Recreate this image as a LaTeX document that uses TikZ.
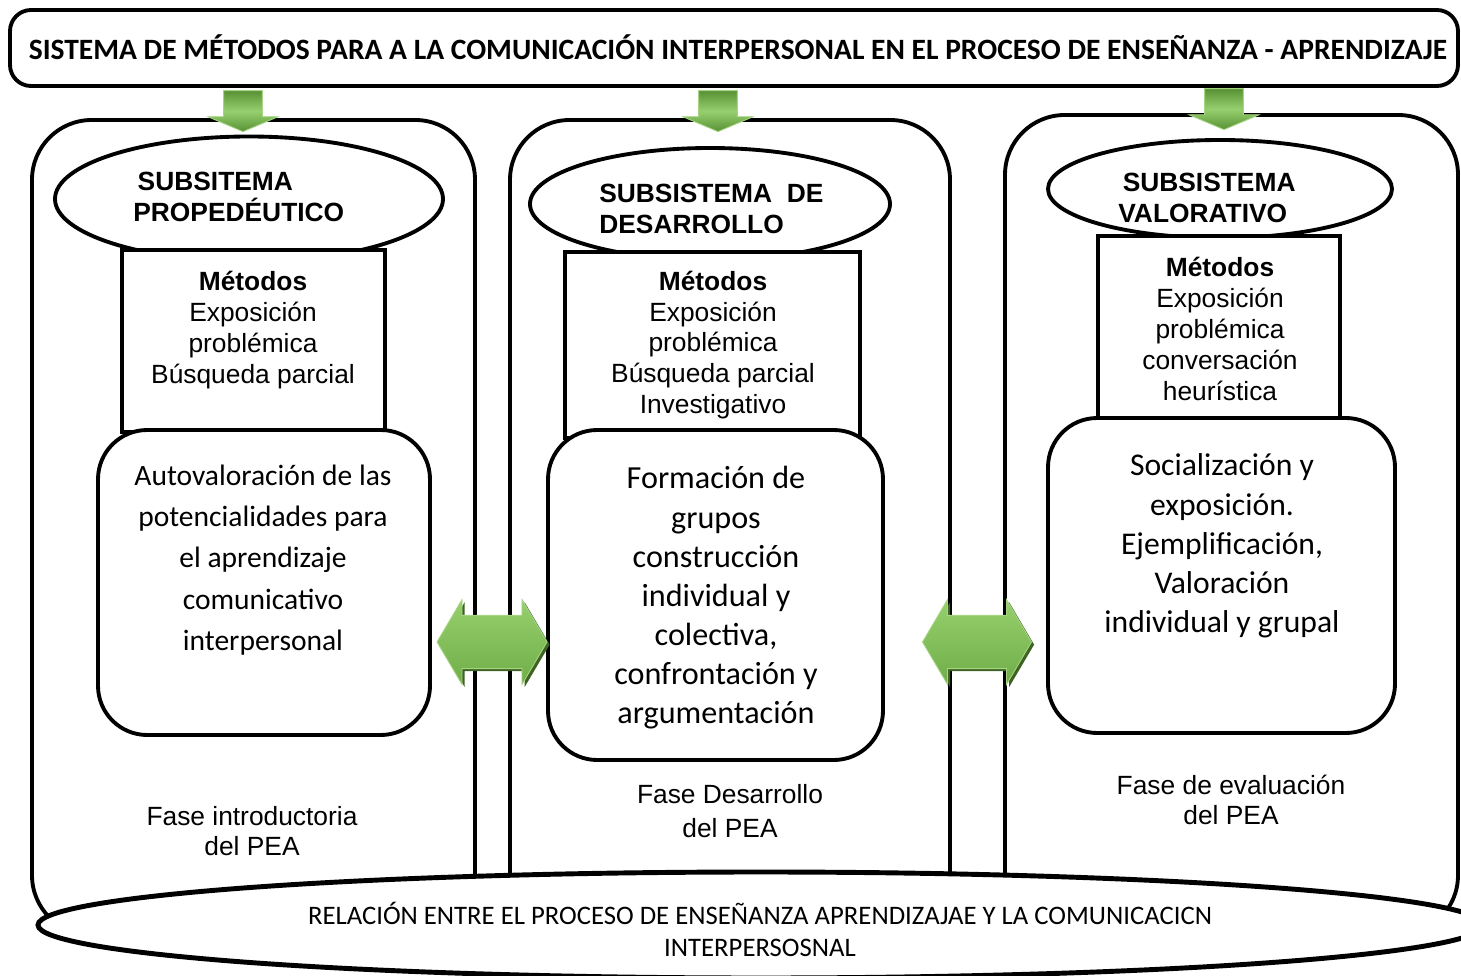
\documentclass[tikz,border=0pt]{standalone}
\usepackage{fontspec}
\setmainfont{Liberation Sans}
\newfontfamily\calfont{Carlito}
\usepackage{tikz}
\usetikzlibrary{positioning, fit, shapes.geometric, shapes.arrows, shadows}
\newcommand{\pxl}{0.02cm}
\definecolor{grnlight}{RGB}{150,208,110}
\definecolor{grnmid}{RGB}{112,173,71}
\definecolor{grndark}{RGB}{88,145,52}
\definecolor{grnedge}{RGB}{165,212,130}
\definecolor{grnshade}{RGB}{62,100,36}
\tikzset{
  frame/.style = {draw, line width=2.2pt, fill=white, inner sep=0pt},
  bigbox/.style = {frame, rounded corners=34pt},
  titlebox/.style = {frame, rounded corners=12pt},
  subell/.style = {frame, ellipse},
  metbox/.style = {frame},
  actbox/.style = {frame, rounded corners=28pt},
  downarrow/.style = {single arrow, draw=grnedge, line width=0.5pt,
    top color=grndark, bottom color=grndark, middle color=grnlight,
    minimum height=0.82cm, minimum width=1.4cm,
    single arrow tip angle=134, inner xsep=0pt, inner ysep=0.3cm, rotate=-90},
  twoarrow/.style = {double arrow, draw=grnedge, line width=0.5pt,
    top color=grnlight, bottom color=grnmid,
    minimum height=2.2cm, minimum width=1.7cm,
    double arrow tip angle=119, inner xsep=0pt, inner ysep=0.41cm,
    drop shadow={fill=grnshade, opacity=1, shadow xshift=1.5pt, shadow yshift=-1.5pt}},
  subtext/.style = {font=\fontsize{15}{17.6}\selectfont\bfseries, align=left, anchor=west, inner sep=0pt},
  mettext/.style = {font=\fontsize{15}{17.6}\selectfont, align=center},
  acttext/.style = {font=\calfont\fontsize{#1}{22.3}\selectfont, align=center},
  fasetext/.style = {font=\fontsize{15}{17.2}\selectfont, align=center}
}
\begin{document}
\begin{tikzpicture}[x=0.02cm, y=-0.02cm]
  \useasboundingbox (0,0) rectangle (1461,976);
  \node (ttl) [titlebox, fit={(10,10) (1458,86)}] {};
  \node (ttltext) at (738,47) {\calfont\fontsize{16.8}{19}\selectfont\bfseries SISTEMA DE MÉTODOS PARA A LA COMUNICACIÓN INTERPERSONAL EN EL PROCESO DE ENSEÑANZA - APRENDIZAJE};

  \node (boxP) [bigbox, fit={(32,120) (475,935)}] {};
  \node (boxD) [bigbox, fit={(510,120) (950,935)}] {};
  \node (boxV) [bigbox, fit={(1005,115) (1458,935)}] {};

  \node (arrP) [downarrow] at (243,107) {};
  \node (arrD) [downarrow] at (718,107) {};
  \node (arrV) [downarrow] at (1224,105) {};

  \node (elP) [subell, minimum width=388*\pxl, minimum height=125*\pxl] at (249,199) {};
  \node (elD) [subell, minimum width=360*\pxl, minimum height=112*\pxl] at (710,204) {};
  \node (elV) [subell, minimum width=344*\pxl, minimum height=98*\pxl] at (1220,189) {};
  \node (subP) [subtext] at (133,197) {\,SUBSITEMA\\PROPEDÉUTICO};
  \node (subD) [subtext] at (599,209) {SUBSISTEMA\ \ DE\\DESARROLLO};
  \node (subV) [subtext] at (1118,198) {\,SUBSISTEMA\\VALORATIVO};

  \node (metP) [metbox, fit={(122,250) (385,432)}] {};
  \node (metD) [metbox, fit={(565,252) (860,438)}] {};
  \node (metV) [metbox, fit={(1098,236) (1340,418)}] {};
  \node (metPtext) [mettext] at (253,330) {\textbf{Métodos}\\Exposición\\problémica\\Búsqueda parcial};
  \node (metDtext) [mettext] at (713,345) {\textbf{Métodos}\\Exposición\\problémica\\Búsqueda parcial\\Investigativo};
  \node (metVtext) [mettext] at (1220,329) {\textbf{Métodos}\\Exposición\\problémica\\conversación\\heurística};

  \node (actP) [actbox, fit={(98,430) (430,735)}] {};
  \node (actD) [actbox, fit={(548,430) (883,760)}] {};
  \node (actV) [actbox, fit={(1048,418) (1395,733)}] {};
  \node (actPtext) [acttext=16.8] at (263,560) {Autovaloración de las\\[1.2pt]potencialidades para\\[1.2pt]el aprendizaje\\[1.2pt]comunicativo\\[1.2pt]interpersonal};
  \node (actDtext) [acttext=18.3] at (716,598) {Formación de\\grupos\\construcción\\individual y\\colectiva,\\confrontación y\\argumentación};
  \node (actVtext) [acttext=18] at (1222,546) {Socialización y\\exposición.\\Ejemplificación,\\Valoración\\individual y grupal};

  \node (dblPD) [twoarrow] at (492,642) {};
  \node (dblDV) [twoarrow, minimum height=2.18cm] at (977,642) {};

  \node (faseP) [fasetext] at (252,831) {Fase introductoria\\del PEA};
  \node (faseD) [fasetext] at (730,811) {Fase Desarrollo\\[2pt]del PEA};
  \node (faseV) [fasetext] at (1231,800) {Fase de evaluación\\del PEA};

  \node (rel) [frame, ellipse, line width=2.8pt, minimum width=1446*\pxl, minimum height=106*\pxl] at (761,925) {};
  \node (reltext) [font=\calfont\fontsize{15.2}{18.2}\selectfont, align=center] at (760,929) {RELACIÓN ENTRE EL PROCESO DE ENSEÑANZA APRENDIZAJAE Y LA COMUNICACICN\\INTERPERSOSNAL};
\end{tikzpicture}
\end{document}
